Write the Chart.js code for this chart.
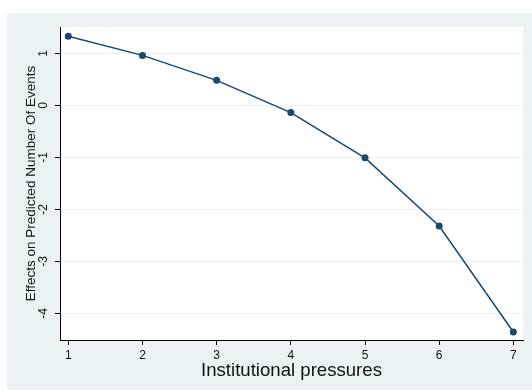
<!DOCTYPE html>
<html>
<head>
<meta charset="utf-8">
<script src="https://cdn.jsdelivr.net/npm/chart.js@4/dist/chart.umd.min.js"></script>
<style>
  html, body { margin: 0; padding: 0; background: #fff; }
  #wrap { width: 532px; height: 391px; }
</style>
</head>
<body>
<div id="wrap"><canvas id="effChart" width="532" height="391"></canvas></div>
<script>
// values
const pressures = [1, 2, 3, 4, 5, 6, 7];
const effects = [1.33, 0.96, 0.48, -0.14, -1.01, -2.32, -4.36];
const xTicks = [1, 2, 3, 4, 5, 6, 7];
const yTicks = [-4, -3, -2, -1, 0, 1];

const navy = '#1a476f';
const panel = 'rgb(234,242,243)';
const fontFamily = '"Liberation Sans", Arial, sans-serif';

// stata-ish grey panel with white plot region
const panelBg = {
    id: 'panelBg',
    beforeDraw(chart) {
        const ctx = chart.ctx;
        const a = chart.chartArea;
        ctx.save();
        ctx.fillStyle = panel;
        ctx.fillRect(7, 13, 525, 377);
        ctx.fillStyle = '#fff';
        ctx.fillRect(a.left, a.top, a.right - a.left, a.bottom - a.top);
        ctx.restore();
    }
};

const ctx = document.getElementById('effChart').getContext('2d');
const effChart = new Chart(ctx, {
    type: 'line',
    data: {
        datasets: [{
            data: pressures.map((p, i) => ({ x: p, y: effects[i] })),
            borderColor: navy,
            backgroundColor: navy,
            borderWidth: 1.5,
            pointRadius: 3.5,
            pointBorderWidth: 0,
            tension: 0,
            fill: false
        }]
    },
    options: {
        responsive: false,
        animation: false,
        layout: { padding: { top: 27, right: 9, left: 0, bottom: 0 } },
        plugins: {
            legend: { display: false },
            tooltip: { enabled: false }
        },
        scales: {
            x: {
                type: 'linear',
                min: 0.888,
                max: 7.13,
                afterBuildTicks: s => { s.ticks = xTicks.map(v => ({ value: v })); },
                afterFit: s => { s.height = 51; },
                grid: { drawOnChartArea: false, tickLength: 5, tickColor: '#000' },
                border: { color: '#000', width: 1 },
                ticks: {
                    padding: 3,
                    color: '#111',
                    maxRotation: 0,
                    font: { family: fontFamily, size: 12 }
                },
                title: {
                    display: true,
                    text: 'Institutional pressures',
                    color: '#111',
                    padding: { top: 0, bottom: 9 },
                    font: { family: fontFamily, size: 18.6 }
                }
            },
            y: {
                type: 'linear',
                min: -4.513,
                max: 1.506,
                afterBuildTicks: s => { s.ticks = yTicks.map(v => ({ value: v })); },
                afterFit: s => { s.width = 60; },
                grid: { color: panel, lineWidth: 1, tickLength: 5, tickColor: '#000' },
                border: { color: '#000', width: 1 },
                ticks: {
                    padding: 6,
                    color: '#111',
                    minRotation: 90,
                    maxRotation: 90,
                    crossAlign: 'center',
                    font: { family: fontFamily, size: 12 }
                },
                title: {
                    display: true,
                    text: 'Effects on Predicted Number Of Events',
                    color: '#111',
                    padding: { top: 23, bottom: 0 },
                    font: { family: fontFamily, size: 13.5 }
                }
            }
        }
    },
    plugins: [panelBg]
});
</script>
</body>
</html>
